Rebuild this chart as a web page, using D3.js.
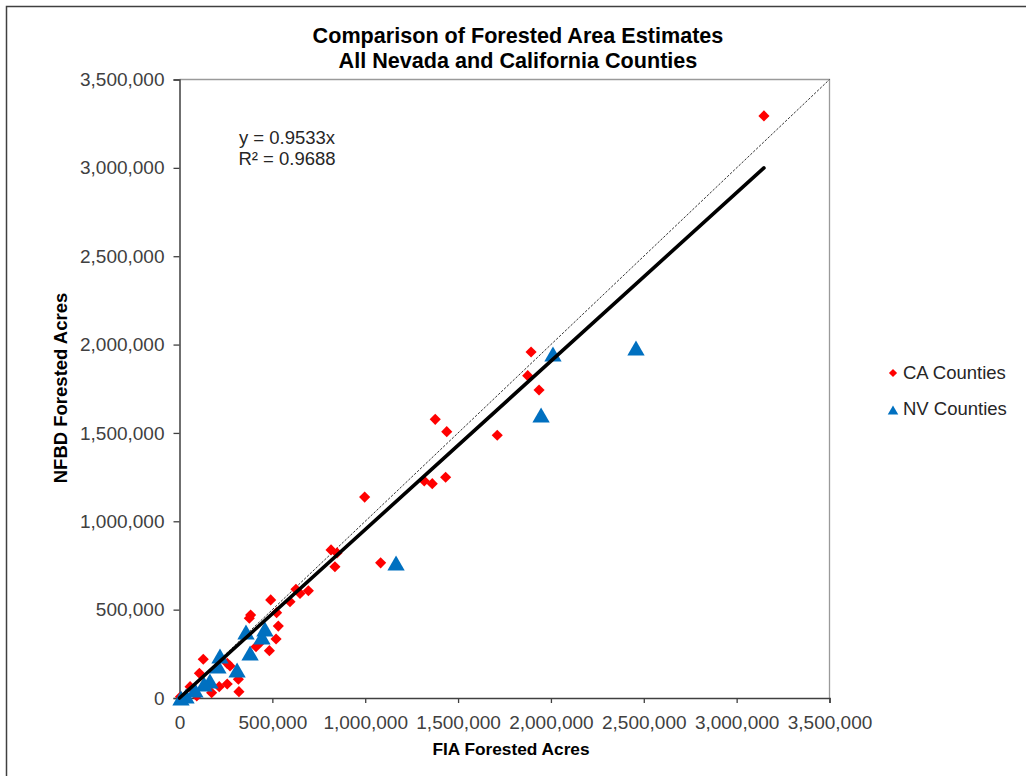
<!DOCTYPE html>
<html>
<head>
<meta charset="utf-8">
<script src="https://cdn.jsdelivr.net/npm/d3@7"></script>
<style>
  body { margin: 0; background: #fff; }
  svg { font-family: "Liberation Sans", Arial, sans-serif; display: block; }
  .tick text { fill: #404040; font-size: 19px; }
</style>
</head>
<body>
<svg class="forest-frame"></svg>
<script>
// FIA vs NFBD forested acres, per county
const caFia = [3147000, 1893000, 1875000, 1936000, 1377000, 1439000, 1711000, 1318000, 1361000, 1433000,
  997000, 1083000, 816000, 848000, 837000, 694000, 649000, 627000, 595000, 491000,
  383000, 376000, 523000, 532000, 520000, 484000, 412000, 128000, 257000, 272000,
  107000, 257000, 317000, 320000, 173000, 214000, 93000, 57000, 5000, 439000];
const caNfbd = [3294000, 1958000, 1824000, 1743000, 1577000, 1507000, 1487000, 1228000, 1213000, 1249000,
  1137000, 765000, 838000, 821000, 743000, 607000, 592000, 615000, 545000, 555000,
  470000, 451000, 483000, 407000, 334000, 268000, 290000, 219000, 196000, 181000,
  140000, 79000, 106000, 36000, 30000, 64000, 11000, 64000, 7000, 319000];

const nvFia = [2458000, 2011000, 1947000, 1166000, 358000, 460000, 444000, 380000, 218000, 207000,
  310000, 164000, 132000, 83000, 35000, 8000];
const nvNfbd = [1981000, 1947000, 1601000, 764000, 373000, 390000, 345000, 255000, 238000, 181000,
  158000, 96000, 79000, 45000, 11000, 0];

const xTicks = [0, 500000, 1000000, 1500000, 2000000, 2500000, 3000000, 3500000];
const yTicks = [0, 500000, 1000000, 1500000, 2000000, 2500000, 3000000, 3500000];

const slope = 0.9533;
const eqLines = ["y = 0.9533x", "R² = 0.9688"];
const titleLines = ["Comparison of Forested Area Estimates", "All Nevada and California Counties"];
const seriesNames = ["CA Counties", "NV Counties"];
const seriesColors = ["#ff0000", "#0070c0"];

const caData = caFia.map((x, i) => ({ x: x, y: caNfbd[i] }));
const nvData = nvFia.map((x, i) => ({ x: x, y: nvNfbd[i] }));

const margin = {top: 79.5, right: 196.5, bottom: 78, left: 179.5}
, width = 1026 - margin.left - margin.right
, height = 776 - margin.top - margin.bottom;

const svg = d3.select(".forest-frame")
  .attr("width", 1026)
  .attr("height", 776);

// outer chart frame
svg.append("rect")
  .attr("x", 6.5).attr("y", 6.5)
  .attr("width", 1040).attr("height", 800)
  .attr("fill", "#fff")
  .attr("stroke", "#404040")
  .attr("stroke-width", 1.5);

const graph = svg.append("g")
  .attr("transform", "translate(" + margin.left + "," + margin.top + ")");

const xScale = d3.scaleLinear().domain([0, 3500000]).range([0, width]);
const yScale = d3.scaleLinear().domain([0, 3500000]).range([height, 0]);

// plot area top / right border
graph.append("path")
  .attr("d", "M0,0H" + width + "V" + height)
  .attr("fill", "none")
  .attr("stroke", "#9a9a9a")
  .attr("stroke-width", 1.3);

const xAxis = d3.axisBottom(xScale).tickValues(xTicks).tickFormat(d3.format(",")).tickSizeOuter(0).tickSize(5).tickPadding(8);
const yAxis = d3.axisLeft(yScale).tickValues(yTicks).tickFormat(d3.format(",")).tickSizeOuter(0).tickSize(6).tickPadding(9);

const gx = graph.append("g").attr("transform", "translate(0," + height + ")").call(xAxis);
const gy = graph.append("g").call(yAxis);
[gx, gy].forEach(g => {
  g.select(".domain").attr("stroke", "#404040").attr("stroke-width", 1.5);
  g.selectAll(".tick line").attr("stroke", "#404040").attr("stroke-width", 1.3);
  g.selectAll(".tick text").attr("font-family", null).attr("font-size", null);
});
gx.selectAll(".tick text").attr("dy", "0.95em");

// 1:1 reference line
graph.append("line")
  .attr("x1", xScale(0)).attr("y1", yScale(0))
  .attr("x2", xScale(3500000)).attr("y2", yScale(3500000))
  .attr("stroke", "#333")
  .attr("stroke-width", 1)
  .attr("stroke-dasharray", "2.5,1.5");

const diamond = d3.symbol().type(d3.symbolSquare).size(62);
const triangleUp = {
  draw(context, size) {
    const s = Math.sqrt(size / (Math.sqrt(3) / 4));
    const h = s * Math.sqrt(3) / 2;
    context.moveTo(0, -h / 2);
    context.lineTo(s / 2, h / 2);
    context.lineTo(-s / 2, h / 2);
    context.closePath();
  }
};
const triangle = d3.symbol().type(triangleUp).size(130);

graph.append("g").selectAll("path")
  .data(caData)
  .enter().append("path")
  .attr("d", diamond)
  .attr("transform", d => "translate(" + xScale(d.x) + "," + yScale(d.y) + ") rotate(45)")
  .attr("fill", seriesColors[0]);

graph.append("g").selectAll("path")
  .data(nvData)
  .enter().append("path")
  .attr("d", triangle)
  .attr("transform", d => "translate(" + xScale(d.x) + "," + yScale(d.y) + ")")
  .attr("fill", seriesColors[1]);

// linear trend through origin
const maxX = d3.max(caData.concat(nvData), d => d.x);
graph.append("line")
  .attr("x1", xScale(0)).attr("y1", yScale(0))
  .attr("x2", xScale(maxX)).attr("y2", yScale(maxX * slope))
  .attr("stroke", "#000")
  .attr("stroke-width", 3.6)
  .attr("stroke-linecap", "round");

// equation
svg.append("text")
  .attr("x", 287).attr("y", 144)
  .attr("text-anchor", "middle")
  .attr("font-size", "18.5px")
  .attr("fill", "#262626")
  .selectAll("tspan")
  .data(eqLines)
  .enter().append("tspan")
  .attr("x", 287)
  .attr("dy", (d, i) => i === 0 ? 0 : "1.15em")
  .text(d => d);

// title
svg.append("text")
  .attr("x", 518).attr("y", 43)
  .attr("text-anchor", "middle")
  .attr("font-size", "21.6px")
  .attr("font-weight", "bold")
  .attr("fill", "#000")
  .selectAll("tspan")
  .data(titleLines)
  .enter().append("tspan")
  .attr("x", 518)
  .attr("dy", (d, i) => i === 0 ? 0 : "1.16em")
  .text(d => d);

// axis titles
svg.append("text")
  .attr("x", 511).attr("y", 755)
  .attr("text-anchor", "middle")
  .attr("font-size", "17.3px")
  .attr("font-weight", "bold")
  .attr("fill", "#000")
  .text("FIA Forested Acres");

svg.append("text")
  .attr("transform", "translate(67,388) rotate(-90)")
  .attr("text-anchor", "middle")
  .attr("font-size", "18.5px")
  .attr("font-weight", "bold")
  .attr("fill", "#000")
  .text("NFBD Forested Acres");

// legend
const legend = svg.append("g").attr("transform", "translate(893,373)");
const items = legend.selectAll("g")
  .data(seriesNames)
  .enter().append("g")
  .attr("transform", (d, i) => "translate(0," + i * 36 + ")");
items.append("path")
  .attr("d", (d, i) => i === 0
    ? d3.symbol().type(d3.symbolSquare).size(34)()
    : d3.symbol().type(triangleUp).size(48)())
  .attr("transform", (d, i) => i === 0 ? "rotate(45)" : "translate(0,1)")
  .attr("fill", (d, i) => seriesColors[i]);
items.append("text")
  .attr("x", 10)
  .attr("y", 6)
  .attr("font-size", "18.5px")
  .attr("fill", "#262626")
  .text(d => d);
</script>
</body>
</html>
